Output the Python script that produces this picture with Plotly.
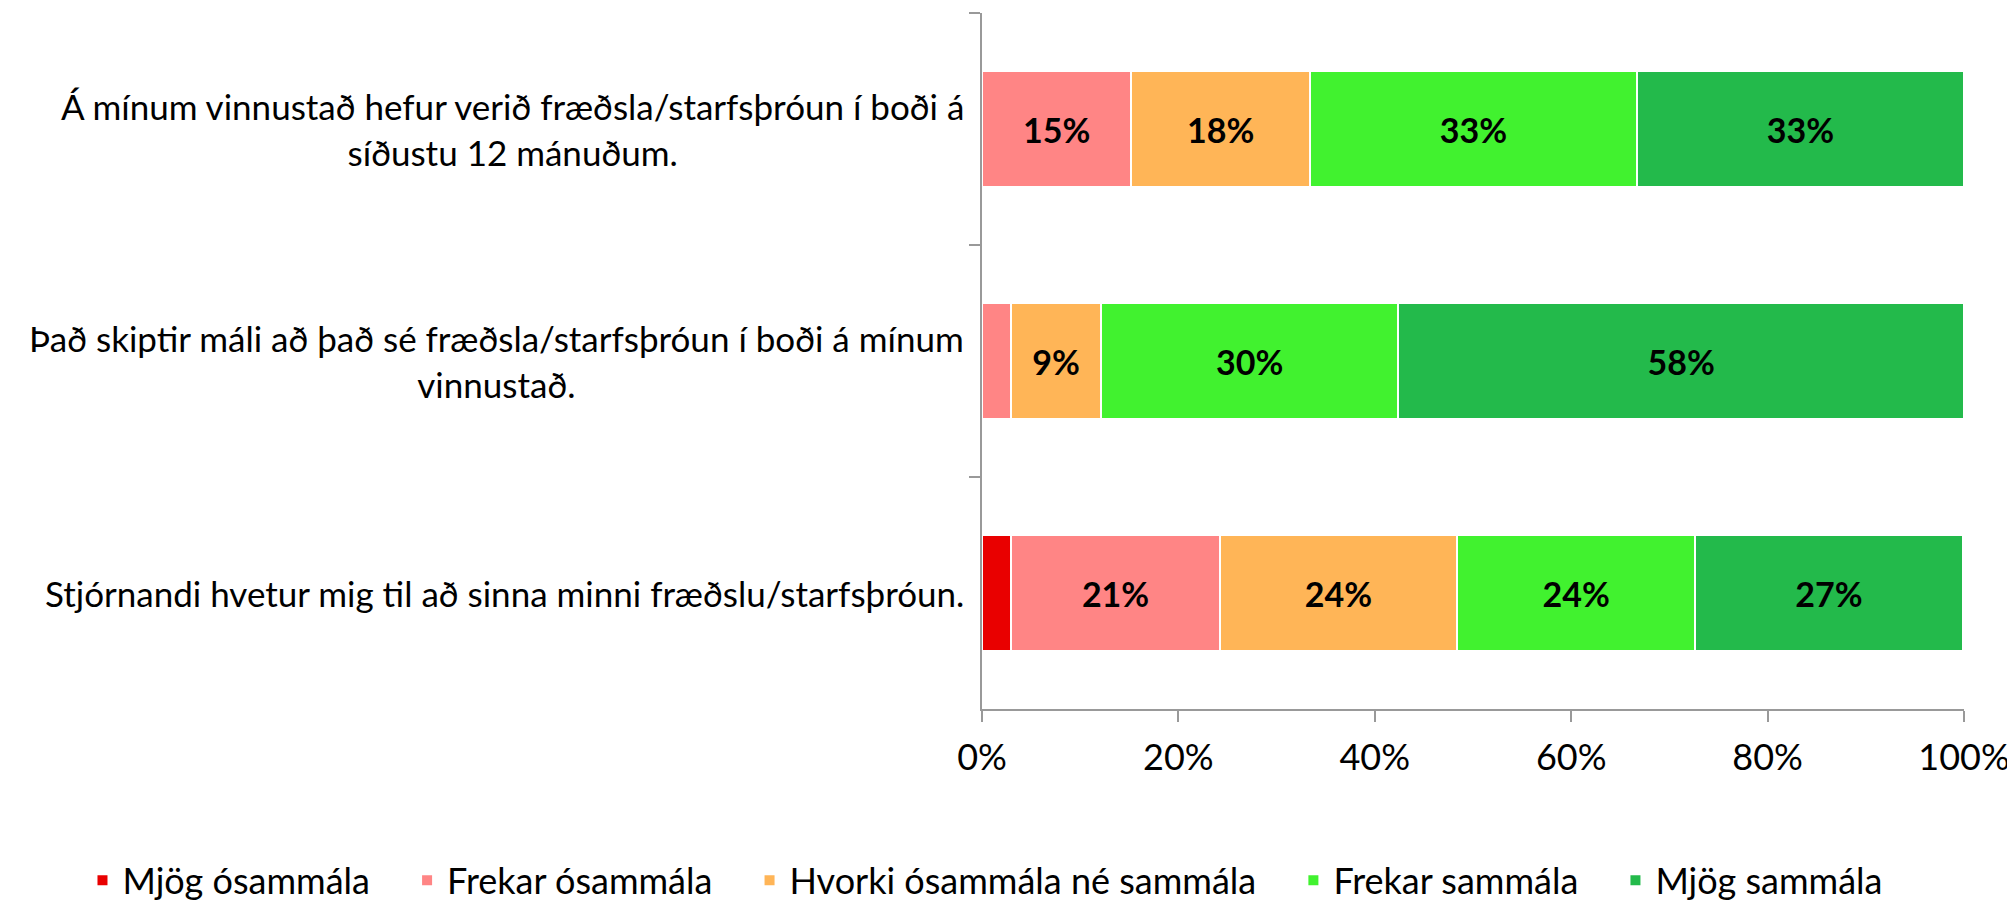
import plotly.graph_objects as go

# Questions, top to bottom
questions = [
    "Á mínum vinnustað hefur verið fræðsla/starfsþróun í boði á<br>síðustu 12 mánuðum.",
    "Það skiptir máli að það sé fræðsla/starfsþróun í boði á mínum<br>vinnustað.",
    "Stjórnandi hvetur mig til að sinna minni fræðslu/starfsþróun.",
]

answers = ["Mjög ósammála", "Frekar ósammála", "Hvorki ósammála né sammála",
           "Frekar sammála", "Mjög sammála"]

# percent per answer, one value per question (same order as questions)
mjog_osammala = [0.0, 0.0, 3.0]
frekar_osammala = [15.2, 3.0, 21.2]
hvorki = [18.2, 9.1, 24.2]
frekar_sammala = [33.3, 30.3, 24.2]
mjog_sammala = [33.3, 57.6, 27.3]

tick_vals = [0, 20, 40, 60, 80, 100]
tick_text = ["0%", "20%", "40%", "60%", "80%", "100%"]

colors = ["#E90000", "#FF8585", "#FFB557", "#41F22F", "#23BA4B"]

series = [mjog_osammala, frekar_osammala, hvorki, frekar_sammala, mjog_sammala]

FONT = "Lato"
PAD = "\u00a0" * 3 + "\u2009"  # extra room between legend entries

fig = go.Figure()
for name, vals, col in zip(answers, series, colors):
    labels = [f"{round(v)}%" if v >= 5 else "" for v in vals]
    fig.add_trace(go.Bar(
        y=questions,
        x=vals,
        name=name + PAD,
        orientation="h",
        marker=dict(color=col, line=dict(color="white", width=2)),
        text=labels,
        textposition="inside",
        insidetextanchor="middle",
        textangle=0,
        constraintext="none",
        textfont=dict(family=FONT, size=34, color="black", weight="bold"),
        hoverinfo="x+name",
    ))

# category labels, centered lines like the original
for q in questions:
    fig.add_annotation(
        x=0, y=q, xref="paper", yref="y",
        text=q, showarrow=False,
        xanchor="right", align="center", xshift=-16,
        font=dict(family=FONT, size=35, color="black"),
    )

fig.update_layout(
    barmode="stack",
    bargap=0.5,
    width=2007,
    height=907,
    margin=dict(l=974, r=47, t=5, b=204),
    paper_bgcolor="white",
    plot_bgcolor="white",
    font=dict(family=FONT, size=36, color="black"),
    xaxis=dict(
        range=[0, 100],
        tickvals=tick_vals,
        ticktext=tick_text,
        showgrid=False,
        zeroline=False,
        showline=True,
        linecolor="#999999",
        linewidth=2,
        ticks="outside",
        ticklen=11,
        tickwidth=2,
        tickcolor="#999999",
        ticklabelstandoff=5,
        tickfont=dict(family=FONT, size=36, color="black"),
    ),
    yaxis=dict(
        categoryorder="array",
        categoryarray=questions,
        range=[2.5, -0.5],
        showticklabels=False,
        showgrid=False,
        showline=True,
        linecolor="#999999",
        linewidth=2,
        ticks="outside",
        ticklen=11,
        tickwidth=2,
        tickcolor="#999999",
        tickson="boundaries",
    ),
    legend=dict(
        orientation="h",
        x=-0.916, xanchor="left",
        y=-0.2894, yanchor="bottom",
        font=dict(family=FONT, size=36, color="black"),
        traceorder="normal",
    ),
)

fig.write_html("out.html")
